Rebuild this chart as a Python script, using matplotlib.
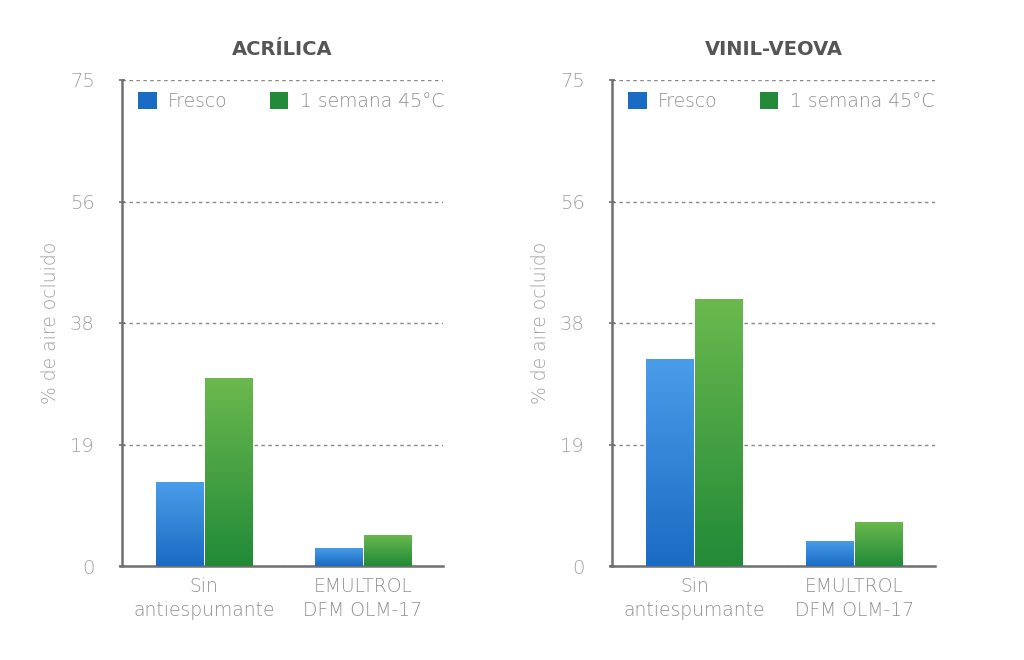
import matplotlib
matplotlib.use("Agg")
import matplotlib.pyplot as plt
import numpy as np
from matplotlib.colors import LinearSegmentedColormap
from matplotlib.patches import Patch

categories = ["Sin\nantiespumante", "EMULTROL\nDFM OLM-17"]
series_names = ["Fresco", "1 semana 45°C"]
titles = ["ACRÍLICA", "VINIL-VEOVA"]
acrilica_fresco = [12.9, 2.8]
acrilica_semana = [29.0, 4.8]
vinil_fresco = [31.9, 3.9]
vinil_semana = [41.2, 6.8]
ytick_vals = [0, 18.75, 37.5, 56.25, 75]
ytick_labels = ["0", "19", "38", "56", "75"]
ylabel = "% de aire ocluido"

blue_top, blue_bot = "#4a9de9", "#1a6bc3"
green_top, green_bot = "#6bb94e", "#228a38"
axis_col = "#707070"
txt_col = "#8f8f8f"

plt.rcParams['font.family'] = ['DejaVu Sans']

fig = plt.figure(figsize=(10.24, 6.6), dpi=100)
ax1 = fig.add_axes([122/1024, 1-566/660, (443-122)/1024, (566-80)/660])
ax2 = fig.add_axes([612/1024, 1-566/660, (935-612)/1024, (566-80)/660])

bw = 0.296
gap = 0.013
x = np.arange(len(categories))

def grad_bars(ax, xs, heights, ctop, cbot):
    cmap = LinearSegmentedColormap.from_list("g", [cbot, ctop])
    grad = np.linspace(0, 1, 256).reshape(-1, 1)
    bars = ax.bar(xs, heights, bw, color=ctop, edgecolor="none", zorder=3)
    for b in bars:
        x0, y0 = b.get_x(), b.get_y()
        w, h = b.get_width(), b.get_height()
        im = ax.imshow(grad, extent=[x0, x0 + w, y0, y0 + h], origin="lower",
                       aspect="auto", cmap=cmap, zorder=4)
        im.set_clip_path(b)
    return bars

for ax, fr, se, title in [(ax1, acrilica_fresco, acrilica_semana, titles[0]),
                          (ax2, vinil_fresco, vinil_semana, titles[1])]:
    grad_bars(ax, x - bw/2 - gap/2, fr, blue_top, blue_bot)
    grad_bars(ax, x + bw/2 + gap/2, se, green_top, green_bot)
    ax.set_xlim(-0.515, 1.505)
    ax.set_ylim(0, 75)
    ax.set_yticks(ytick_vals)
    ax.set_yticklabels(ytick_labels)
    ax.set_xticks(x)
    ax.set_xticklabels(categories, color=txt_col, fontsize=13.5, linespacing=1.3,
                       fontweight="light")
    ax.tick_params(axis="x", length=0, pad=8)
    ax.tick_params(axis="y", length=5, direction="inout", color=axis_col,
                   labelcolor="#a0a0a0", labelsize=14, pad=17, width=1.2)
    for t in ax.get_yticklabels():
        t.set_fontweight("light")
    ax.yaxis.grid(True, linestyle=(0, (2.5, 2.5)), color="#888888", linewidth=1, zorder=0)
    ax.set_axisbelow(True)
    for s in ["top", "right"]:
        ax.spines[s].set_visible(False)
    for s in ["left", "bottom"]:
        ax.spines[s].set_color(axis_col)
        ax.spines[s].set_linewidth(1.8)
    ax.spines["bottom"].set_bounds(-0.515 - 0.015, 1.505)
    ax.set_title(title, fontsize=14, fontweight="bold", color="#555555", pad=18)
    ax.set_ylabel(ylabel, color="#a0a0a0", fontsize=13.5, fontweight="light")
    ax.yaxis.set_label_coords(-(122-60)/321, 0.5)
    handles = [Patch(facecolor=blue_bot, edgecolor="none"), Patch(facecolor=green_bot, edgecolor="none")]
    leg = ax.legend(handles, series_names, ncol=2, loc="upper left",
                    bbox_to_anchor=(-0.003, 1.01), frameon=False,
                    handlelength=1.0, handleheight=1.0, columnspacing=2.25,
                    handletextpad=0.6, prop={"weight": "light", "size": 13.5})
    for t in leg.get_texts():
        t.set_color(txt_col)

fig.savefig("out.png", dpi=100, facecolor="white")
